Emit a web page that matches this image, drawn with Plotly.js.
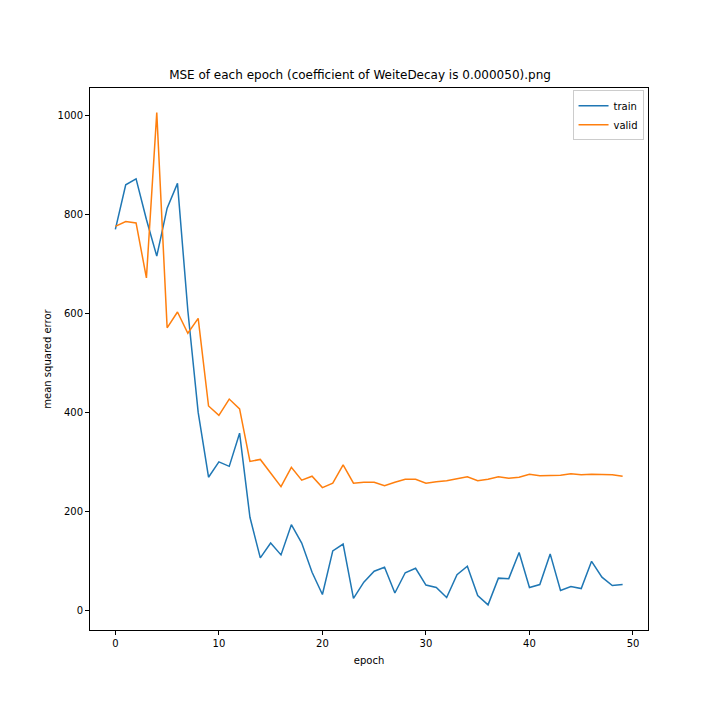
<!DOCTYPE html>
<html>
<head>
<meta charset="utf-8">
<script src="https://cdn.plot.ly/plotly-3.0.1.min.js"></script>
<style>
  body { margin: 0; background: #fff; }
  #container { width: 720px; height: 720px; }
</style>
</head>
<body>
<div id="container"></div>
<script>
// значення
const epochs = [];
for (let i = 0; i < 50; i++) epochs.push(i);

const trainMse = [
  770, 860, 872, 790, 716, 813, 863, 606, 400, 269,
  300, 291, 358, 188, 106, 136, 112, 173, 136, 77,
  32, 120, 134, 24, 57, 79, 87, 35, 76, 85,
  51, 46, 26, 72, 89, 30, 11, 65, 64, 117,
  46, 52, 114, 40, 48, 44, 99, 67, 50, 52
];

const validMse = [
  776, 786, 783, 672, 1006, 571, 603, 560, 590, 413,
  394, 427, 407, 301, 305, 277, 250, 289, 263, 271,
  248, 257, 294, 257, 259, 259, 252, 259, 265, 265,
  257, 260, 262, 266, 270, 262, 265, 270, 267, 269,
  275, 272, 273, 273, 276, 274, 275, 274, 274, 271
];

const seriesNames = ["train", "valid"];
const seriesColors = ["#1f77b4", "#ff7f0e"];

const chartTitle = "MSE of each epoch (coefficient of WeiteDecay is 0.000050).png";

const draw = () => {
  const data = [trainMse, validMse].map((ys, i) => ({
    x: epochs,
    y: ys,
    mode: "lines",
    type: "scatter",
    name: seriesNames[i],
    line: { color: seriesColors[i], width: 1.5 }
  }));

  const axisStyle = {
    showgrid: false,
    zeroline: false,
    showline: true,
    linecolor: "#000",
    linewidth: 1,
    mirror: true,
    ticks: "outside",
    ticklen: 4,
    tickcolor: "#000",
    tickfont: { size: 10, color: "#000" }
  };

  const layout = {
    width: 720,
    height: 720,
    margin: { l: 90, r: 72, t: 88, b: 90 },
    paper_bgcolor: "#fff",
    plot_bgcolor: "#fff",
    font: { family: "DejaVu Sans, sans-serif", color: "#000" },
    title: {
      text: chartTitle,
      font: { size: 12, color: "#000" },
      x: 0.5,
      xanchor: "center",
      y: 1 - 75 / 720,
      yanchor: "middle"
    },
    xaxis: Object.assign({}, axisStyle, {
      range: [-2.45, 51.45],
      tickvals: [0, 10, 20, 30, 40, 50],
      title: { text: "epoch", font: { size: 10, color: "#000" }, standoff: 8 }
    }),
    yaxis: Object.assign({}, axisStyle, {
      range: [-39.8, 1055.8],
      tickvals: [0, 200, 400, 600, 800, 1000],
      title: { text: "mean squared error", font: { size: 10, color: "#000" }, standoff: 4 }
    }),
    legend: {
      x: 0.992,
      y: 0.996,
      xanchor: "right",
      yanchor: "top",
      bgcolor: "rgba(255,255,255,0.8)",
      bordercolor: "#ccc",
      borderwidth: 1,
      font: { size: 10, color: "#000" },
      itemwidth: 30,
      tracegroupgap: 0
    },
    showlegend: true
  };

  Plotly.newPlot("container", data, layout, { displayModeBar: false, staticPlot: true });
};

draw();
</script>
</body>
</html>
